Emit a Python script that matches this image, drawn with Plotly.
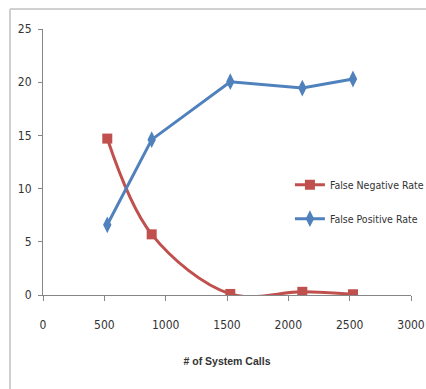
import plotly.graph_objects as go

# Number of system calls observed per run
system_calls = [524, 886, 1527, 2114, 2527]
false_negative_rate = [14.7, 5.7, 0.1, 0.3, 0.07]
false_positive_rate = [6.6, 14.6, 20.05, 19.45, 20.3]

x_ticks = [0, 500, 1000, 1500, 2000, 2500, 3000]
y_ticks = [0, 5, 10, 15, 20, 25]

FONT = "DejaVu Sans Condensed, Liberation Sans, sans-serif"
TITLE_FONT = "Liberation Sans, Arial, sans-serif"
RED = "#C0504D"
BLUE = "#4F81BD"
AXIS = "#868686"
TEXT = "#333333"

fig = go.Figure()
fig.add_trace(go.Scatter(
    x=system_calls, y=false_negative_rate, name="False Negative Rate",
    mode="lines+markers", legendgroup="fn",
    line=dict(color=RED, width=3, shape="spline", smoothing=1),
    marker=dict(symbol="square", size=10, color=RED),
))
fig.add_trace(go.Scatter(
    x=system_calls, y=false_positive_rate, name="False Positive Rate",
    mode="lines+markers", legendgroup="fp",
    line=dict(color=BLUE, width=3),
    marker=dict(symbol="diamond-tall", size=12, color=BLUE),
))

fig.update_layout(
    width=426, height=389,
    margin=dict(l=43, r=15, t=29, b=94, autoexpand=False),
    paper_bgcolor="white", plot_bgcolor="white",
    font=dict(family=FONT, size=12, color=TEXT),
    showlegend=True,
    legend=dict(
        x=0.671, y=0.351, xanchor="left", yanchor="middle",
        traceorder="grouped", tracegroupgap=15,
        font=dict(family=FONT, size=10.5, color=TEXT),
        bgcolor="rgba(0,0,0,0)", itemwidth=30,
    ),
    xaxis=dict(
        range=[0, 3000], tickvals=x_ticks, ticktext=[str(v) for v in x_ticks],
        showgrid=False, zeroline=False, showline=True, linecolor=AXIS, linewidth=1,
        ticks="outside", ticklen=5, tickcolor=AXIS, ticklabelstandoff=14,
        tickfont=dict(family=FONT, size=12, color=TEXT),
        title=dict(text="<b># of System Calls</b>", standoff=26,
                   font=dict(family=TITLE_FONT, size=10.5, color=TEXT)),
        automargin=False,
    ),
    yaxis=dict(
        range=[0, 25], tickvals=y_ticks, ticktext=[str(v) for v in y_ticks],
        showgrid=False, zeroline=False, showline=True, linecolor=AXIS, linewidth=1,
        ticks="outside", ticklen=4, tickcolor=AXIS, ticklabelstandoff=4,
        tickfont=dict(family=FONT, size=12, color=TEXT),
        automargin=False,
    ),
    shapes=[
        # chart area frame (top and left edges visible)
        dict(type="line", xref="paper", yref="paper",
             x0=-0.0897, x1=1.2, y0=1.075, y1=1.075,
             line=dict(color="#D0D0D0", width=2)),
        dict(type="line", xref="paper", yref="paper",
             x0=-0.0897, x1=-0.0897, y0=1.075, y1=-0.5,
             line=dict(color="#D0D0D0", width=2)),
    ],
)

fig.write_html("out.html")
